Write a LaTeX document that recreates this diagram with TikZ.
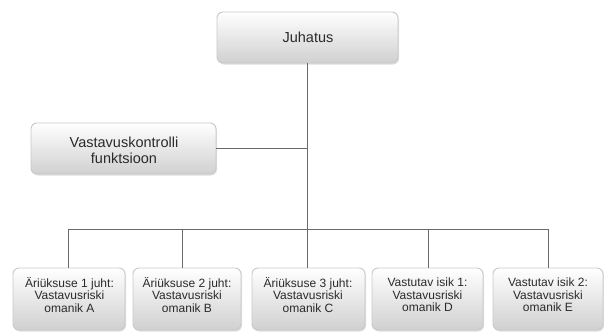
\documentclass[tikz,border=0pt]{standalone}
\usepackage{fontspec}
\setmainfont{Liberation Sans}
\usetikzlibrary{shadows,calc}
\definecolor{linegray}{HTML}{6A6A6A}
\definecolor{boxborder}{HTML}{C8C8C8}
\definecolor{boxbottom}{HTML}{D0D0D0}
\definecolor{txtgray}{HTML}{2A2A2A}
\begin{document}
\begin{tikzpicture}[x=1pt,y=-1pt,
  orgbox/.style={draw=boxborder, line width=0.9pt, rounded corners=6pt,
    top color=white, bottom color=boxbottom,
    drop shadow={opacity=0.25, shadow xshift=1pt, shadow yshift=-1.5pt},
    inner sep=0pt},
  boxtext/.style={text=txtgray, align=center, inner sep=0pt},
  conn/.style={draw=linegray, line width=0.9pt}]
\useasboundingbox (0,0) rectangle (604,332);

% top boxes
\node[orgbox, minimum width=181pt, minimum height=51pt] (J) at (307.5,37.5) {};
\node[boxtext, font=\fontsize{14.5}{16}\selectfont] (Jt) at (308,37.5) {Juhatus};
\node[orgbox, minimum width=185pt, minimum height=51pt] (V) at (123.5,148.5) {};
\node[boxtext, font=\fontsize{14.5}{16}\selectfont] (Vt) at (124,150) {Vastavuskontrolli\\funktsioon};

% bottom boxes
\node[orgbox, minimum width=112pt, minimum height=62pt] (b1) at (69,299) {};
\node[orgbox, minimum width=108pt, minimum height=62pt] (b2) at (187,299) {};
\node[orgbox, minimum width=113pt, minimum height=62pt] (b3) at (308.5,299) {};
\node[orgbox, minimum width=111pt, minimum height=62pt] (b4) at (427.5,299) {};
\node[orgbox, minimum width=110pt, minimum height=62pt] (b5) at (548,299) {};

\begin{scope}[every node/.style={boxtext, font=\fontsize{12}{12.5}\selectfont}]
\node (t1) at (69.5,295) {Äriüksuse 1 juht:\\Vastavusriski\\omanik A};
\node (t2) at (187,295) {Äriüksuse 2 juht:\\Vastavusriski\\omanik B};
\node (t3) at (308,295) {Äriüksuse 3 juht:\\Vastavusriski\\omanik C};
\node (t4) at (427.5,295) {Vastutav isik 1:\\Vastavusriski\\omanik D};
\node (t5) at (548,295) {Vastutav isik 2:\\Vastavusriski\\omanik E};
\end{scope}

% connectors
\coordinate (hm) at (307.5,229);
\coordinate (hl) at (68,229);
\coordinate (h2) at (182,229);
\coordinate (h4) at (428,229);
\coordinate (hr) at (548,229);
\draw[conn] (J.south) -- (hm);
\draw[conn] (V.east) -- (V.east -| hm);
\draw[conn] (hl) -- (hr);
\draw[conn] (hl) -- (hl |- b1.north);
\draw[conn] (h2) -- (h2 |- b2.north);
\draw[conn] (hm) -- (hm |- b3.north);
\draw[conn] (h4) -- (h4 |- b4.north);
\draw[conn] (hr) -- (hr |- b5.north);
\end{tikzpicture}
\end{document}
